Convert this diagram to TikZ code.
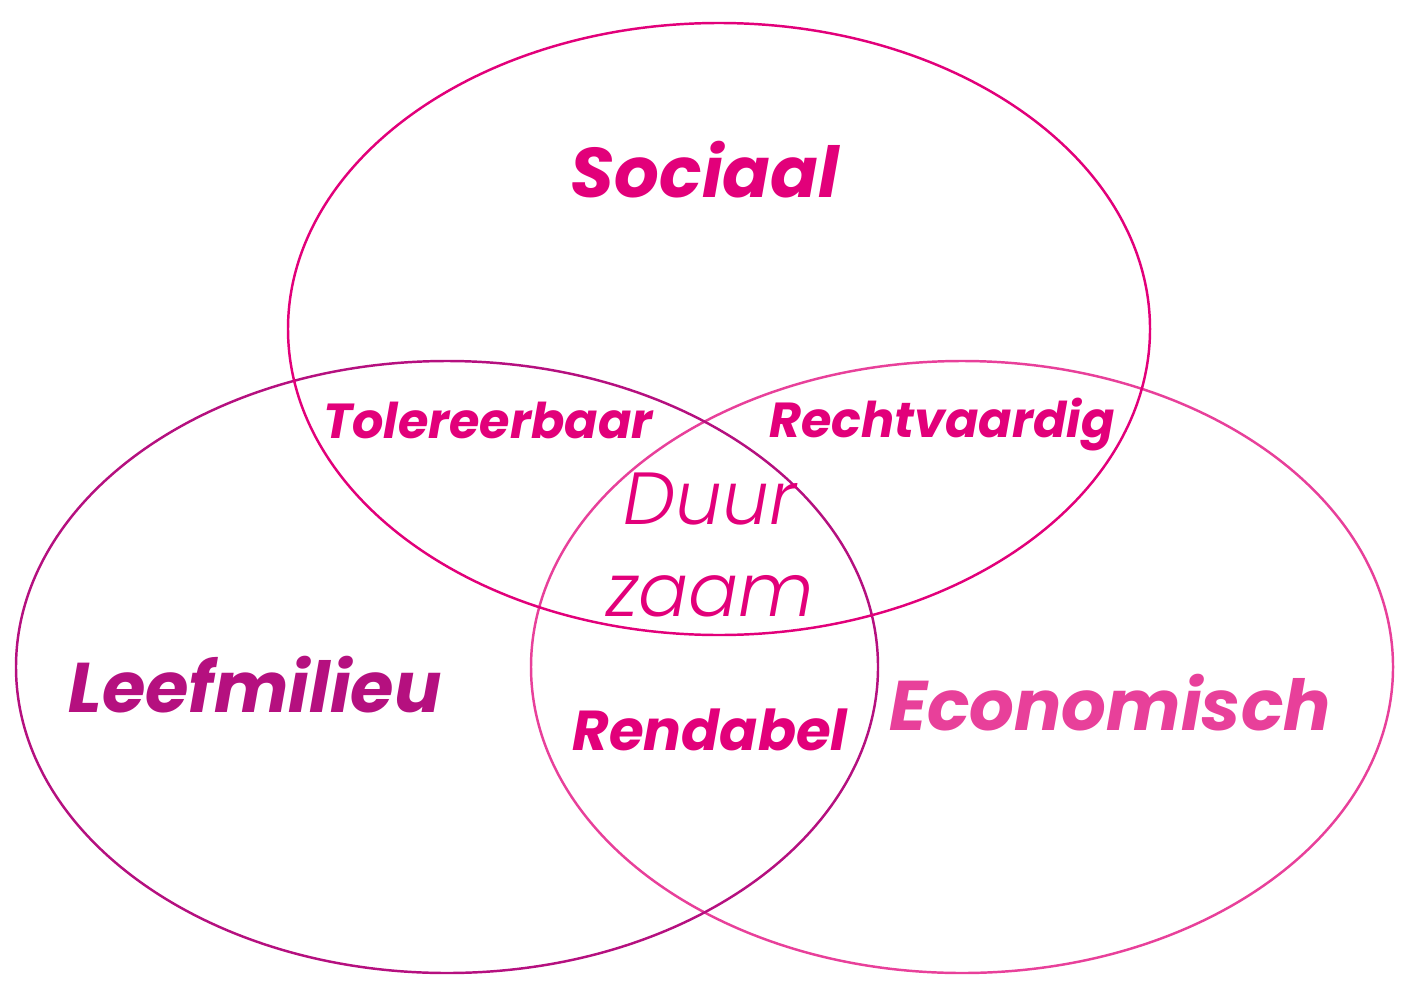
\documentclass[tikz,border=0pt]{standalone}
\usepackage{fontspec}
\setmainfont{Poppins}
\definecolor{socpink}{HTML}{E2007A}
\definecolor{leefpurple}{HTML}{B5107F}
\definecolor{ecopink}{HTML}{E8409A}
\tikzset{
    circle line/.style={line width=0.7pt},
    big label/.style={font=\fontsize{20}{24}\selectfont\bfseries\itshape},
    small label/.style={font=\fontsize{14}{17}\selectfont\bfseries\itshape, text=socpink},
}
\begin{document}
\begin{tikzpicture}[x=0.01cm, y=-0.01cm]

    \useasboundingbox (0, 0) rectangle (1410, 997);

    \pgfmathsetmacro{\rx}{431} % same size for all three
    \pgfmathsetmacro{\ry}{306}

    % Circles
    \coordinate (SOC) at (719, 329);
    \coordinate (LEEF) at (447, 667);
    \coordinate (ECO) at (962, 667);
    \draw[circle line, ecopink] (ECO) ellipse ({\rx*0.01cm} and {\ry*0.01cm});
    \draw[circle line, leefpurple] (LEEF) ellipse ({\rx*0.01cm} and {\ry*0.01cm});
    \draw[circle line, socpink] (SOC) ellipse ({\rx*0.01cm} and {\ry*0.01cm});

    % Labels
    \node[big label, text=socpink] (sociaal) at (705, 170) {Sociaal};
    \node[big label, text=leefpurple] (leefmilieu) at (255, 685) {Leefmilieu};
    \node[big label, text=ecopink] (economisch) at (1110, 703) {Economisch};
    \node[small label] (tolereerbaar) at (488, 420) {Tolereerbaar};
    \node[small label] (rechtvaardig) at (942, 425) {Rechtvaardig};
    \node[small label, font=\fontsize{16}{19}\selectfont\bfseries\itshape] (rendabel) at (710, 730) {Rendabel};
    \node[text=socpink, align=center, font=\fontsize{21}{26}\selectfont\fontspec{Poppins Light}\itshape] (duurzaam) at (710, 545) {Duur\\zaam};

\end{tikzpicture}
\end{document}
